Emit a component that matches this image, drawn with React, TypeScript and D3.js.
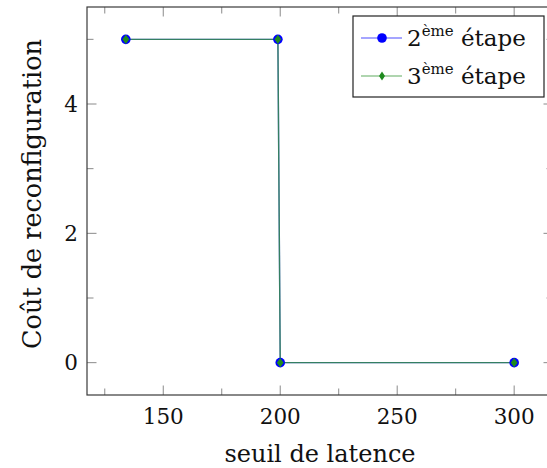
import React from "react";
import * as d3 from "d3";

const xValues = [134, 199, 200, 300];
const series2eme = [5, 5, 0, 0];
const series3eme = [5, 5, 0, 0];
const xMajorTicks = [150, 200, 250, 300];
const xMinorTicks = [125, 175, 225, 275];
const yMajorTicks = [0, 2, 4];
const yMinorTicks = [1, 3, 5];
const legendLabels = [["2", "ème", " étape"], ["3", "ème", " étape"]];

const W = 547, H = 468;
const L = 87, R = 553, T = 7, B = 395;
const FONT = "'DejaVu Serif', serif";
const BLUE = "#0000ff";
const GREEN = "#1f8a1f";
const FS = 21.5;

export default function App() {
  const [xmin, xmax] = d3.extent(xValues) as [number, number];
  const xpad = (xmax - xmin) * 0.1;
  const x = d3.scaleLinear().domain([xmin - xpad, xmax + xpad]).range([L, R]);
  const allY = [...series2eme, ...series3eme];
  const [ymin, ymax] = d3.extent(allY) as [number, number];
  const ypad = (ymax - ymin) * 0.1;
  const y = d3.scaleLinear().domain([ymin - ypad, ymax + ypad]).range([B, T]);

  const line = d3.line<number>().x((_, i) => x(xValues[i])).y((d) => y(d));
  const diamond = (cx: number, cy: number, hw: number, hh: number) =>
    `M${cx},${cy - hh}L${cx + hw},${cy}L${cx},${cy + hh}L${cx - hw},${cy}Z`;

  const tickColor = "#8a8a8a";
  const major = 9.5, minor = 6.5;

  return (
    <div style={{ position: "absolute", left: 0, top: 0 }}>
      <svg width={W} height={H} style={{ display: "block" }} fontFamily={FONT}>
        <rect width={W} height={H} fill="white" />
        <g stroke={tickColor} strokeWidth={1}>
          {xMajorTicks.map((t) => (
            <g key={"xM" + t}>
              <line x1={x(t)} x2={x(t)} y1={B} y2={B - major} />
              <line x1={x(t)} x2={x(t)} y1={T} y2={T + major} />
            </g>
          ))}
          {xMinorTicks.map((t) => (
            <g key={"xm" + t}>
              <line x1={x(t)} x2={x(t)} y1={B} y2={B - minor} />
              <line x1={x(t)} x2={x(t)} y1={T} y2={T + minor} />
            </g>
          ))}
          {yMajorTicks.map((t) => (
            <g key={"yM" + t}>
              <line x1={L} x2={L + major} y1={y(t)} y2={y(t)} />
              <line x1={R} x2={R - major} y1={y(t)} y2={y(t)} />
            </g>
          ))}
          {yMinorTicks.map((t) => (
            <g key={"ym" + t}>
              <line x1={L} x2={L + minor} y1={y(t)} y2={y(t)} />
              <line x1={R} x2={R - minor} y1={y(t)} y2={y(t)} />
            </g>
          ))}
        </g>
        <path d={line(series2eme) || ""} fill="none" stroke={BLUE} strokeWidth={1.4} opacity={0.6} />
        <path d={line(series3eme) || ""} fill="none" stroke={GREEN} strokeWidth={1.4} opacity={0.7} />
        {series2eme.map((v, i) => (
          <circle key={"c" + i} cx={x(xValues[i])} cy={y(v)} r={4.8} fill={BLUE} />
        ))}
        {series3eme.map((v, i) => (
          <path key={"d" + i} d={diamond(x(xValues[i]), y(v), 3.4, 4.6)} fill={GREEN} />
        ))}
        <rect x={L} y={T} width={R - L} height={B - T} fill="none" stroke="#3a3a3a" strokeWidth={1.2} />
        <g fontSize={FS} fill="#111">
          {xMajorTicks.map((t) => (
            <text key={"xl" + t} x={x(t)} y={424} textAnchor="middle">{t}</text>
          ))}
          {yMajorTicks.map((t) => (
            <text key={"yl" + t} x={78} y={y(t) + 7.5} textAnchor="end">{t}</text>
          ))}
        </g>
        <text x={(L + R) / 2} y={462} textAnchor="middle" fontSize={24} fill="#111">seuil de latence</text>
        <text transform={`translate(41,${194}) rotate(-90)`} textAnchor="middle" fontSize={25.5} fill="#111">
          Coût de reconfiguration
        </text>
        <g>
          <rect x={353} y={16} width={191} height={81} fill="white" stroke="#222" strokeWidth={1.2} />
          {legendLabels.map((lab, i) => {
            const cy = 38 + i * 38;
            const color = i === 0 ? BLUE : GREEN;
            return (
              <g key={"lg" + i}>
                <line x1={361} x2={402} y1={cy} y2={cy} stroke={color} strokeWidth={1.2} opacity={0.7} />
                {i === 0 ? (
                  <circle cx={382} cy={cy} r={4.8} fill={BLUE} />
                ) : (
                  <path d={diamond(382, cy, 3, 4.4)} fill={GREEN} />
                )}
                <text x={407} y={cy + 8} fontSize={23} fill="#111">
                  {lab[0]}
                  <tspan fontSize={15} dy={-10}>{lab[1]}</tspan>
                  <tspan dy={10}>{lab[2]}</tspan>
                </text>
              </g>
            );
          })}
        </g>
      </svg>
    </div>
  );
}
